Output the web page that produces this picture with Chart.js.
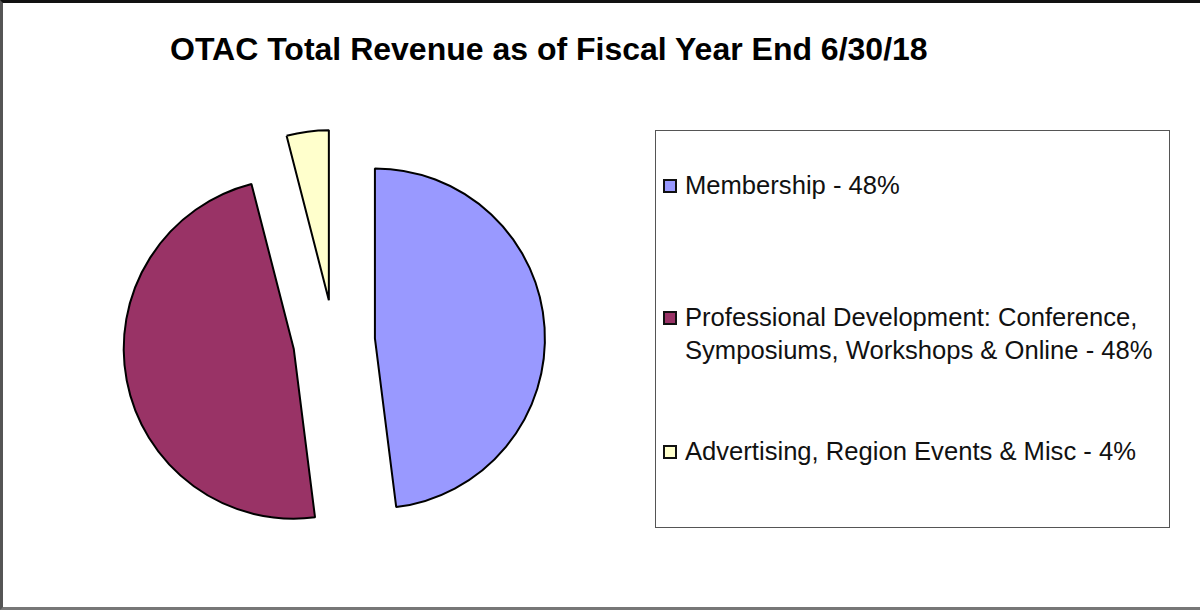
<!DOCTYPE html>
<html>
<head>
<meta charset="utf-8">
<script src="https://cdn.jsdelivr.net/npm/chart.js@4/dist/chart.umd.min.js"></script>
<style>
  html, body { margin: 0; padding: 0; background: #fff; }
  #frame {
    position: relative; width: 1200px; height: 610px; box-sizing: border-box;
    border-top: 3px solid #111; border-left: 3px solid #555; border-bottom: 3px solid #777;
    font-family: 'Liberation Sans', Arial, sans-serif; overflow: hidden;
  }
  #title {
    position: absolute; left: 167px; top: 28px; font-size: 32px; font-weight: bold; color: #000;
    white-space: nowrap;
  }
  #pieWrap { position: absolute; left: 81px; top: 88px; width: 500px; height: 500px; }
  #legend {
    position: absolute; left: 652px; top: 127px; width: 515px; height: 398px; box-sizing: border-box;
    border: 1px solid #555;
  }
  .leg-item { position: absolute; left: 7px; font-size: 25.6px; line-height: 33px; color: #111; display: flex; }
  .leg-box { width: 10px; height: 10px; border: 2px solid #111; margin: 10px 8px 0 0; flex: none; }
</style>
</head>
<body>
<div id="frame">
  <div id="title">OTAC Total Revenue as of Fiscal Year End 6/30/18</div>
  <div id="pieWrap"><canvas id="pie" width="500" height="500"></canvas></div>
  <div id="legend"></div>
</div>
<script>
const labels = ['Membership', 'Professional Development: Conference,|Symposiums, Workshops & Online', 'Advertising, Region Events & Misc']
const values = [48, 48, 4]
const colors = ['#9999ff', '#993366', '#ffffcc']
const explode = [41, 41, 41]
const legendTops = [38, 170, 304]

document.getElementById('legend').innerHTML = labels.map((l, i) => {
  const lines = (l + ' - ' + values[i] + '%').split('|')
  return `
    <div class="leg-item" style="top:${legendTops[i]}px">
      <div class="leg-box" style="background:${colors[i]}"></div>
      <div>${lines.join('<br>')}</div>
    </div>`
}).join('')

// pull each slice out along its middle angle (like an exploded Excel pie)
const explodePlugin = {
  id: 'explode',
  beforeDatasetDraw(chart, args) {
    const ctx = chart.ctx
    args.meta.data.forEach((arc, i) => {
      const mid = (arc.startAngle + arc.endAngle) / 2
      ctx.save()
      ctx.translate(Math.cos(mid) * explode[i], Math.sin(mid) * explode[i])
      arc.draw(ctx)
      ctx.restore()
    })
    return false
  }
}

new Chart(document.getElementById('pie').getContext('2d'), {
  type: 'pie',
  data: {
    labels: labels.map(l => l.replace('|', ' ')),
    datasets: [{
      data: values,
      backgroundColor: colors,
      borderColor: '#000',
      borderWidth: 2,
      radius: 170
    }]
  },
  options: {
    responsive: false, animation: false, devicePixelRatio: 1,
    layout: { padding: 0 },
    plugins: { legend: { display: false }, tooltip: { enabled: false }, title: { display: false } }
  },
  plugins: [explodePlugin]
})
</script>
</body>
</html>
